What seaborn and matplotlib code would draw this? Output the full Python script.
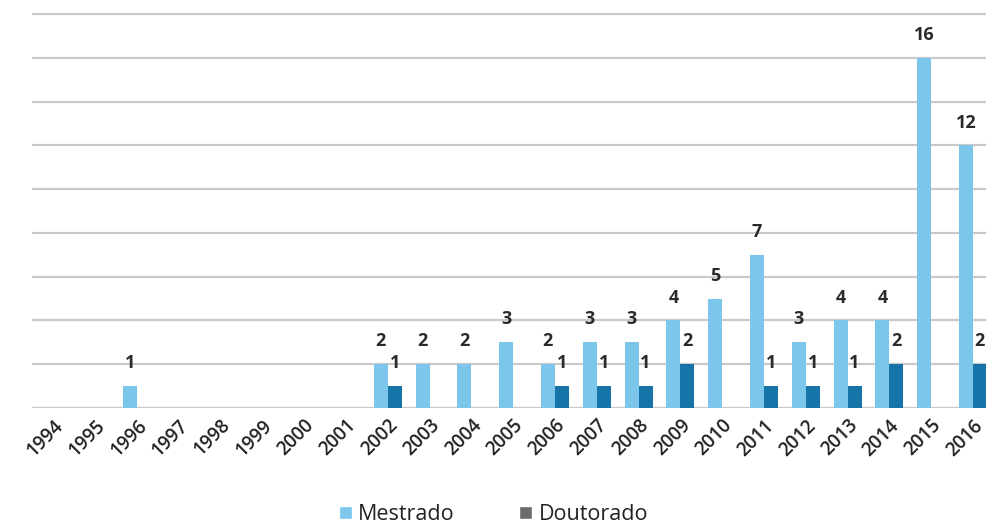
import matplotlib
matplotlib.use("Agg")
import matplotlib.pyplot as plt
from matplotlib.patches import Patch
import pandas as pd
import seaborn as sns

years = [str(y) for y in range(1994, 2017)]
mestrado = [0, 0, 1, 0, 0, 0, 0, 0, 2, 2, 2, 3, 2, 3, 3, 4, 5, 7, 3, 4, 4, 16, 12]
doutorado = [0, 0, 0, 0, 0, 0, 0, 0, 1, 0, 0, 0, 1, 1, 1, 2, 0, 1, 1, 1, 2, 0, 2]

df = pd.DataFrame({
    "Ano": years * 2,
    "Total": mestrado + doutorado,
    "Nivel": ["Mestrado"] * len(years) + ["Doutorado"] * len(years),
})

light = "#7cc6ec"
dark = "#1674a8"

sns.set_style("white")
plt.rcParams["font.family"] = ["Open Sans", "DejaVu Sans"]

fig = plt.figure(figsize=(9.87, 5.24), dpi=100)
ax = fig.add_axes([0.0329, 0.2214, 0.974, 0.7598])

sns.barplot(data=df, x="Ano", y="Total", hue="Nivel",
            palette={"Mestrado": light, "Doutorado": dark},
            width=0.67, saturation=1, linewidth=0, legend=False, ax=ax)

ax.set_xlim(-0.5, 22.5)
ax.set_ylim(0, 18.2)
ax.set_yticks(range(0, 19, 2))
ax.yaxis.grid(True, color="#c9c9c9", linewidth=1.6)
ax.set_axisbelow(True)
ax.tick_params(axis="y", left=False, labelleft=False)
ax.tick_params(axis="x", bottom=False, pad=2)
for s in ax.spines.values():
    s.set_visible(False)
ax.set_xlabel("")
ax.set_ylabel("")

for lab in ax.get_xticklabels():
    lab.set_rotation(45)
    lab.set_ha("right")
    lab.set_rotation_mode("anchor")
    lab.set_fontsize(13.5)
    lab.set_fontweight("semibold")
    lab.set_color("#222222")

# value labels
for cont in ax.containers:
    labels = [str(int(v)) if v > 0 else "" for v in cont.datavalues]
    ax.bar_label(cont, labels=labels, padding=10, fontsize=13,
                 fontweight="bold", color="#2a2a2a", clip_on=False)

handles = [Patch(facecolor=light, label="Mestrado"),
           Patch(facecolor="#6b6b6b", label="Doutorado")]
fig.legend(handles=handles, loc="center", bbox_to_anchor=(0.5, 0.018),
           ncol=2, frameon=False, fontsize=15.5, handlelength=0.6,
           handleheight=0.6, handletextpad=0.3, columnspacing=3.0,
           labelcolor="#222222")

fig.savefig("out.png", dpi=100)
